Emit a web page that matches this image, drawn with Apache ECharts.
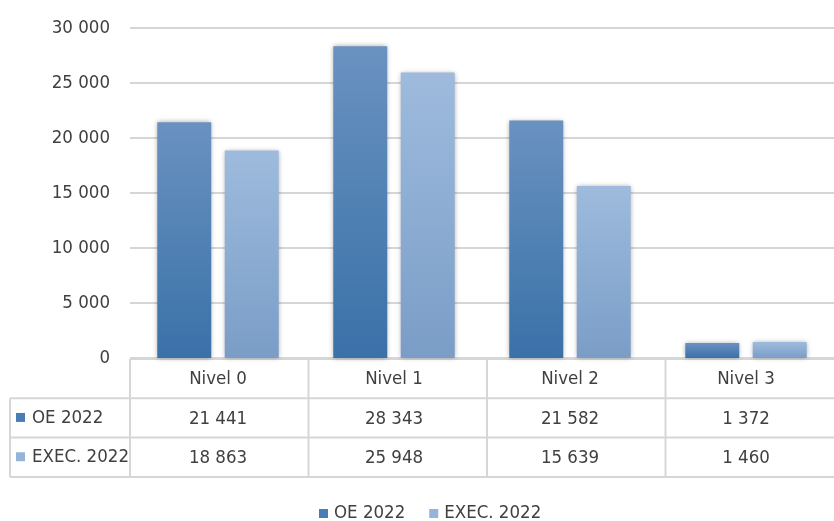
<!DOCTYPE html>
<html>
<head>
<meta charset="utf-8">
<script src="https://cdn.jsdelivr.net/npm/echarts@6/dist/echarts.min.js"></script>
<style>
  html, body { margin: 0; padding: 0; background: #ffffff; }
  #chart { width: 834px; height: 521px; }
</style>
</head>
<body>
<div id="chart"></div>
<script>
// Budget by level: initial allocation vs. execution, 2022
const categories = ['Nivel 0', 'Nivel 1', 'Nivel 2', 'Nivel 3'];
const seriesNames = ['OE 2022', 'EXEC. 2022'];
const oe2022 = [21441, 28343, 21582, 1372];
const exec2022 = [18863, 25948, 15639, 1460];
const yTicks = [0, 5000, 10000, 15000, 20000, 25000, 30000];

const FONT = '"DejaVu Sans Condensed", "Liberation Sans Narrow", sans-serif';
const FS = 18.5;
const TEXT = '#404040';
const LINE = '#d6d6d6';

// grid geometry (the plot runs slightly past the right edge of the canvas)
const GRID_LEFT = 130, GRID_RIGHT = -10, GRID_TOP = 28, GRID_BOTTOM = 163;
const W = 834, H = 521;
const ROW_H = 39.3;

function fmt(v) {
  return String(v).replace(/\B(?=(\d{3})+(?!\d))/g, ' ');
}

const darkGrad = new echarts.graphic.LinearGradient(0, 0, 0, 1, [
  { offset: 0, color: '#6992c0' },
  { offset: 1, color: '#3a71a8' }
]);
const lightGrad = new echarts.graphic.LinearGradient(0, 0, 0, 1, [
  { offset: 0, color: '#9ebbdd' },
  { offset: 1, color: '#7a9dc7' }
]);
const legendColors = ['#4a7db4', '#94b4da'];

const chart = echarts.init(document.getElementById('chart'), null, { renderer: 'canvas' });

const plotBottom = H - GRID_BOTTOM;
const plotRight = W - GRID_RIGHT;
const colW = (plotRight - GRID_LEFT) / categories.length;
const tableTop = plotBottom + 1;
const rowY = [tableTop, tableTop + ROW_H, tableTop + 2 * ROW_H, tableTop + 3 * ROW_H];
const tableLeft = 10;

// table grid lines
const graphics = [];
function hLine(x1, x2, y) {
  graphics.push({ type: 'line', shape: { x1, y1: y, x2, y2: y }, style: { stroke: LINE, lineWidth: 2 }, silent: true });
}
function vLine(x, y1, y2) {
  graphics.push({ type: 'line', shape: { x1: x, y1, x2: x, y2 }, style: { stroke: LINE, lineWidth: 2 }, silent: true });
}
hLine(GRID_LEFT, plotRight, rowY[0]);
hLine(tableLeft, plotRight, rowY[1]);
hLine(tableLeft, plotRight, rowY[2]);
hLine(tableLeft, plotRight, rowY[3]);
vLine(tableLeft, rowY[1], rowY[3]);
for (let i = 0; i < categories.length; i++) {
  vLine(GRID_LEFT + i * colW, rowY[0], rowY[3]);
}
// row headers with legend keys
seriesNames.forEach((name, i) => {
  const cy = (rowY[i + 1] + rowY[i + 2]) / 2;
  graphics.push({ type: 'rect', shape: { x: 16, y: cy - 5, width: 9, height: 9 }, style: { fill: legendColors[i] }, silent: true });
  graphics.push({
    type: 'text', x: 32, y: cy,
    style: { text: name, fill: TEXT, font: FS + 'px ' + FONT, textVerticalAlign: 'middle', textAlign: 'left' },
    silent: true
  });
});

const labelCommon = { color: TEXT, fontFamily: FONT, fontSize: FS };

chart.setOption({
  animation: false,
  backgroundColor: '#ffffff',
  grid: { left: GRID_LEFT, right: GRID_RIGHT, top: GRID_TOP, bottom: GRID_BOTTOM, containLabel: false },
  legend: {
    data: seriesNames.map((n, i) => ({ name: n, itemStyle: { color: legendColors[i] } })),
    bottom: -7,
    left: 314,
    icon: 'rect',
    itemWidth: 9,
    itemHeight: 9,
    itemGap: 24,
    textStyle: { color: TEXT, fontFamily: FONT, fontSize: FS, padding: [0, 0, 0, 1] }
  },
  xAxis: [
    {
      type: 'category', data: categories, position: 'bottom',
      axisLine: { show: false }, axisTick: { show: false },
      axisLabel: Object.assign({ margin: 12, interval: 0 }, labelCommon)
    },
    {
      type: 'category', data: oe2022.map(fmt), position: 'bottom', offset: ROW_H,
      axisLine: { show: false }, axisTick: { show: false },
      axisLabel: Object.assign({ margin: 12, interval: 0 }, labelCommon)
    },
    {
      type: 'category', data: exec2022.map(fmt), position: 'bottom', offset: 2 * ROW_H,
      axisLine: { show: false }, axisTick: { show: false },
      axisLabel: Object.assign({ margin: 12, interval: 0 }, labelCommon)
    }
  ],
  yAxis: {
    type: 'value',
    min: yTicks[0],
    max: yTicks[yTicks.length - 1],
    interval: yTicks[1] - yTicks[0],
    axisLine: { show: false }, axisTick: { show: false },
    splitLine: { lineStyle: { color: LINE, width: 2 } },
    axisLabel: Object.assign({ margin: 20, formatter: v => fmt(v) }, labelCommon)
  },
  series: [
    {
      name: seriesNames[0], type: 'bar', xAxisIndex: 0, data: oe2022,
      barGap: '25%', barCategoryGap: '31%',
      itemStyle: { color: darkGrad, shadowBlur: 5, shadowColor: 'rgba(0,0,0,0.35)' }
    },
    {
      name: seriesNames[1], type: 'bar', xAxisIndex: 0, data: exec2022,
      itemStyle: { color: lightGrad, shadowBlur: 5, shadowColor: 'rgba(0,0,0,0.35)' }
    }
  ],
  graphic: graphics
});
</script>
</body>
</html>
